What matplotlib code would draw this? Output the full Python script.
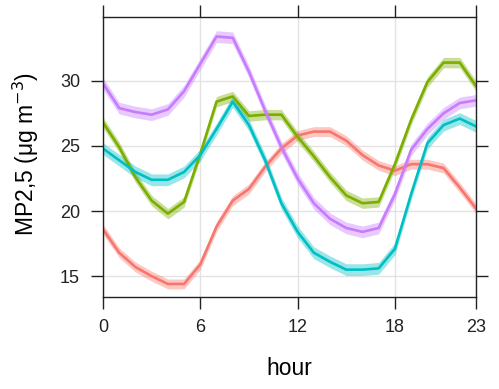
import numpy as np
import matplotlib
matplotlib.use("Agg")
import matplotlib.pyplot as plt

plt.rcParams['font.family'] = ['Liberation Sans', 'DejaVu Sans']

hours = list(range(24))

red = [18.6, 16.8, 15.7, 15.0, 14.4, 14.4, 15.9, 18.8, 20.8, 21.7, 23.4, 24.8,
       25.8, 26.1, 26.1, 25.4, 24.3, 23.5, 23.1, 23.6, 23.6, 23.3, 21.8, 20.2]
green = [26.8, 24.9, 22.6, 20.8, 19.8, 20.7, 24.4, 28.4, 28.8, 27.3, 27.4, 27.4,
         25.7, 24.2, 22.6, 21.2, 20.6, 20.7, 23.6, 27.0, 29.9, 31.4, 31.4, 29.6]
cyan = [24.8, 23.9, 23.0, 22.4, 22.4, 23.0, 24.3, 26.3, 28.4, 26.6, 23.9, 20.6,
        18.4, 16.8, 16.1, 15.5, 15.5, 15.6, 17.1, 21.3, 25.2, 26.6, 27.1, 26.5]
purple = [29.8, 27.9, 27.6, 27.4, 27.8, 29.2, 31.3, 33.4, 33.3, 30.7, 27.7, 24.9,
          22.5, 20.6, 19.4, 18.7, 18.4, 18.7, 21.3, 24.7, 26.3, 27.5, 28.3, 28.5]

series = [
    (red, '#F8766D', 0.38),
    (green, '#7CAE00', 0.40),
    (cyan, '#00BFC4', 0.45),
    (purple, '#C77CFF', 0.45),
]

fig = plt.figure(figsize=(4.99, 3.89), dpi=100)
ax = fig.add_axes([103 / 499, 1 - 297 / 389, 373 / 499, 280 / 389])

for vals, col, hw in series:
    v = np.array(vals)
    ax.fill_between(hours, v - hw, v + hw, color=col, alpha=0.4, lw=0)
    ax.plot(hours, v, color=col, linewidth=1.9)

ax.set_xlim(0, 23)
ax.set_ylim(13.4, 34.9)
ax.set_xticks([0, 6, 12, 18, 23])
ax.set_yticks([15, 20, 25, 30])
ax.grid(True, color='#e3e3e3', linewidth=1)
ax.set_axisbelow(True)

ax.tick_params(direction='out', length=8.5, width=1, labelsize=13,
               top=True, right=True, labeltop=False, labelright=False,
               colors='#222222', labelcolor='#222222')
ax.tick_params(axis='y', pad=8)
ax.tick_params(axis='x', pad=7)
for sp in ax.spines.values():
    sp.set_color('#222222')
    sp.set_linewidth(1)

ax.set_xlabel('hour', fontsize=16.5)
ax.set_ylabel('MP2,5 (μg m$^{-3}$)', fontsize=16.5)
ax.xaxis.set_label_coords(0.5, -0.215)
ax.yaxis.set_label_coords(-0.165, 0.51)

fig.savefig('out.png', dpi=100)
